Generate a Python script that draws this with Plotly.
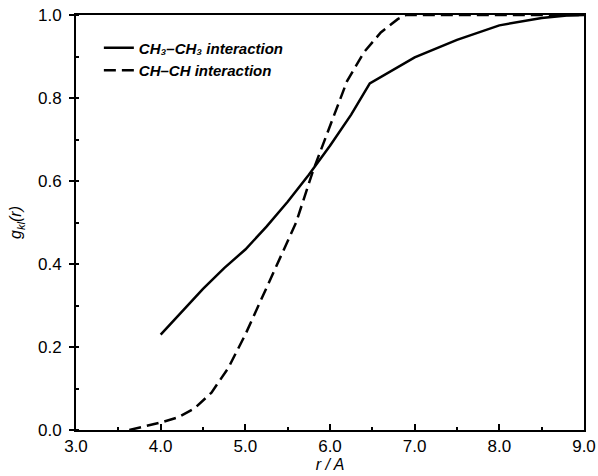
import plotly.graph_objects as go

# CH3-CH3 interaction (solid)
r_ch3 = [4.0, 4.25, 4.5, 4.75, 5.0, 5.25, 5.5, 5.75, 6.0, 6.25, 6.47, 7.0, 7.5, 8.0, 8.5, 8.8, 9.0]
g_ch3 = [0.23, 0.285, 0.34, 0.39, 0.435, 0.49, 0.55, 0.615, 0.685, 0.76, 0.835, 0.898, 0.94, 0.975, 0.993, 0.999, 1.0]

# CH-CH interaction (dashed)
r_ch = [3.63, 3.8, 4.0, 4.2, 4.4, 4.6, 4.8, 5.0, 5.2, 5.4, 5.6, 5.8, 6.0, 6.2, 6.4, 6.6, 6.8, 6.9, 7.5, 8.0, 8.5, 9.0]
g_ch = [0.0, 0.008, 0.018, 0.03, 0.052, 0.09, 0.15, 0.23, 0.32, 0.41, 0.50, 0.625, 0.735, 0.84, 0.91, 0.958, 0.99, 1.0, 1.0, 1.0, 1.0, 1.0]

x_ticks = [3.0, 4.0, 5.0, 6.0, 7.0, 8.0, 9.0]
y_ticks = [0.0, 0.2, 0.4, 0.6, 0.8, 1.0]

fig = go.Figure()
fig.add_trace(go.Scatter(x=r_ch3, y=g_ch3, mode="lines",
                         line=dict(color="black", width=2.5),
                         name="<b><i>CH₃–CH₃ interaction</i></b>"))
fig.add_trace(go.Scatter(x=r_ch, y=g_ch, mode="lines",
                         line=dict(color="black", width=2.5, dash="12px,6px"),
                         name="<b><i>CH–CH interaction</i></b>"))

font = "Liberation Sans, Arial, sans-serif"
fig.update_layout(
    width=598, height=476,
    margin=dict(l=76, r=14, t=15, b=46),
    paper_bgcolor="white", plot_bgcolor="white",
    font=dict(family=font, size=17, color="black"),
    showlegend=True,
    legend=dict(x=0.045, y=0.96, xanchor="left", yanchor="top",
                bgcolor="rgba(0,0,0,0)", font=dict(size=15),
                tracegroupgap=0),
    xaxis=dict(range=[3.0, 9.0], tickvals=x_ticks,
               ticktext=[f"{v:.1f}" for v in x_ticks],
               ticks="inside", ticklen=6, tickwidth=1.5, tickcolor="black",
               minor=dict(dtick=0.5, ticks="inside", ticklen=3, tickcolor="black"),
               showline=True, linecolor="black", linewidth=2, mirror=True,
               showgrid=False, zeroline=False, automargin=False,
               ticklabeloverflow="allow",
               title=dict(text="<i>r / A</i>", standoff=2, font=dict(size=16))),
    yaxis=dict(range=[0.0, 1.0], tickvals=y_ticks,
               ticktext=[f"{v:.1f}" for v in y_ticks],
               ticks="outside", ticklen=5, tickwidth=1.5, tickcolor="black",
               ticklabelstandoff=4,
               minor=dict(dtick=0.1, ticks="inside", ticklen=3, tickcolor="black"),
               showline=True, linecolor="black", linewidth=2, mirror=True,
               showgrid=False, zeroline=False, automargin=False,
               ticklabeloverflow="allow",
               title=dict(text="<i>g<sub>kl</sub>(r)</i>", standoff=12, font=dict(size=16))),
)

fig.write_html("out.html", config={"displayModeBar": False},
               post_script="document.body.style.margin='0';document.body.style.overflow='hidden';")
